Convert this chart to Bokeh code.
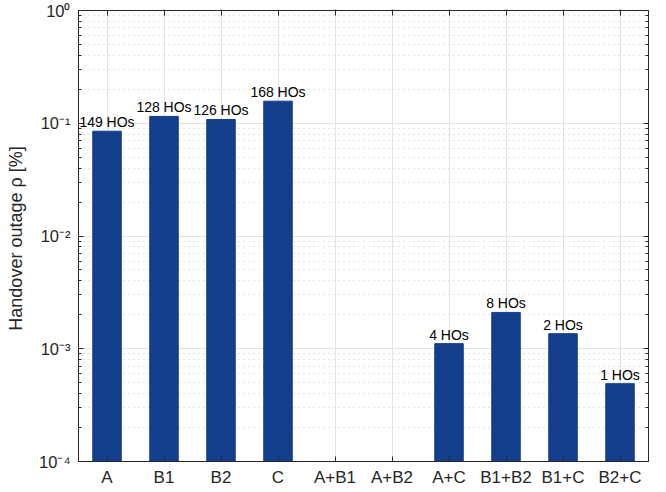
from bokeh.plotting import figure
from bokeh.models import (Range1d, FactorRange, FixedTicker, LogAxis, CategoricalAxis,
                          ColumnDataSource)
from bokeh.core.properties import value
from bokeh.embed import file_html
from bokeh.resources import INLINE

categories = ["A", "B1", "B2", "C", "A+B1", "A+B2", "A+C", "B1+B2", "B1+C", "B2+C"]
outage_pct = [0.085, 0.115, 0.108, 0.157, None, None, 0.00111, 0.0021, 0.00136, 0.00049]
handovers = [149, 128, 126, 168, 0, 0, 4, 8, 2, 1]
y_tick_values = [1e-4, 1e-3, 1e-2, 1e-1, 1.0]
y_tick_labels = ["10⁻⁴", "10⁻³", "10⁻²", "10⁻¹", "10⁰"]

FONT = "Liberation Sans"
AX = "#262626"
BAR = "#133e8c"

cats = [c for c, v in zip(categories, outage_pct) if v is not None]
vals = [v for v in outage_pct if v is not None]
labs = [f"{n} HOs" for n, v in zip(handovers, outage_pct) if v is not None]
src = ColumnDataSource(dict(cat=cats, val=vals, lab=labs, base=[y_tick_values[0]] * len(vals)))

p = figure(x_range=FactorRange(factors=categories), y_range=Range1d(1e-4, 1.0),
           y_axis_type="log", width=666, height=492, output_backend="svg",
           toolbar_location=None, min_border_left=78, min_border_right=18,
           min_border_top=10, min_border_bottom=31)

p.vbar(x="cat", top="val", bottom="base", width=0.5, source=src,
       fill_color=BAR, line_color=BAR)

p.text(x="cat", y="val", text="lab", source=src, text_align="center",
       text_baseline="bottom", y_offset=-1, text_font=value(FONT),
       text_font_size="14px", text_color="#000000")

minor = [m * d for d in y_tick_values[:-1] for m in range(2, 10)]
overrides = {t: l for t, l in zip(y_tick_values, y_tick_labels)}

p.yaxis.ticker = FixedTicker(ticks=y_tick_values, minor_ticks=minor)
p.yaxis.major_label_overrides = overrides

for ax in [p.xaxis[0], p.yaxis[0]]:
    ax.axis_line_color = AX
    ax.major_tick_line_color = AX
    ax.minor_tick_line_color = AX
    ax.major_tick_in = 5
    ax.major_tick_out = 0
    ax.minor_tick_in = 3
    ax.minor_tick_out = 0
    ax.major_label_text_font = FONT
    ax.major_label_text_color = AX

p.xaxis.major_label_text_font_size = "17px"
p.yaxis.major_label_text_font_size = "16.5px"
p.xaxis.major_label_standoff = 6
p.yaxis.major_label_standoff = 8
p.yaxis.axis_label = "Handover outage  ρ [%]"
p.yaxis.axis_label_text_font = FONT
p.yaxis.axis_label_text_font_size = "18px"
p.yaxis.axis_label_text_font_style = "normal"
p.yaxis.axis_label_text_color = AX
p.yaxis.axis_label_standoff = 10

top_ax = CategoricalAxis(major_label_overrides={c: "" for c in categories},
                         major_label_standoff=0, major_label_text_font_size="1px",
                         major_tick_in=5, major_tick_out=0, axis_line_color=AX,
                         major_tick_line_color=AX)
p.add_layout(top_ax, "above")
right_ax = LogAxis(ticker=FixedTicker(ticks=y_tick_values, minor_ticks=minor),
                   major_label_overrides={t: "" for t in y_tick_values},
                   major_label_text_font_size="1px", major_label_standoff=0,
                   major_tick_in=5, major_tick_out=0, minor_tick_in=3, minor_tick_out=0,
                   axis_line_color=AX, major_tick_line_color=AX, minor_tick_line_color=AX)
p.add_layout(right_ax, "right")

p.outline_line_color = AX
p.xgrid.grid_line_color = "#e3e3e3"
p.ygrid.grid_line_color = "#e3e3e3"
p.ygrid.minor_grid_line_color = "#c8c8c8"
p.ygrid.minor_grid_line_dash = "1 4"

open("out.html", "w").write(file_html(p, INLINE))
